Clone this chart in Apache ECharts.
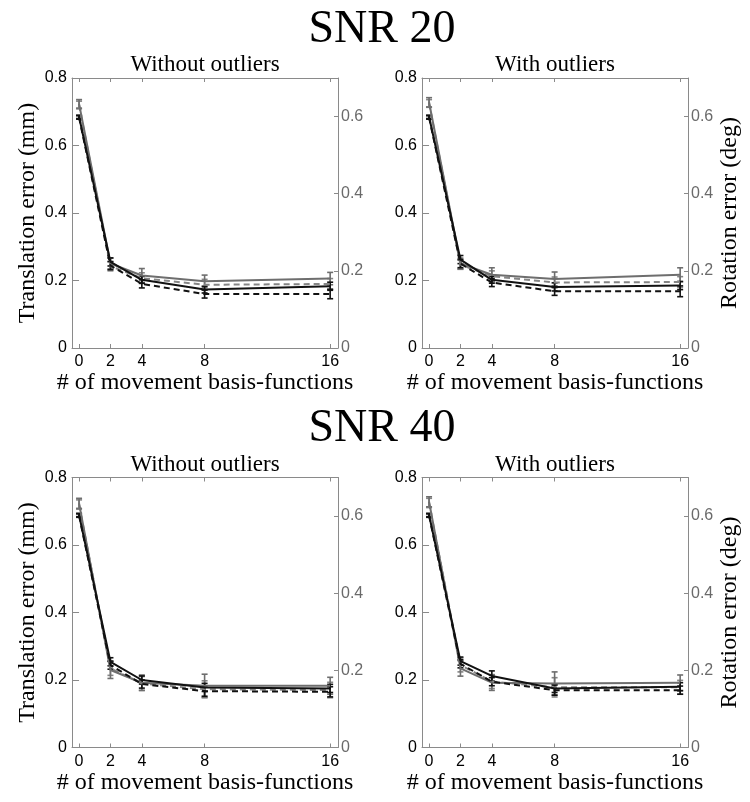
<!DOCTYPE html>
<html>
<head>
<meta charset="utf-8">
<script src="https://cdn.jsdelivr.net/npm/echarts@6/dist/echarts.min.js"></script>
<style>
html, body { margin: 0; padding: 0; background: #fff; }
#chart { width: 750px; height: 802px; }
</style>
</head>
<body>
<div id="chart"></div>
<script>
// x: number of movement basis-functions
const basisCounts = [0, 2, 4, 8, 16];
const snrTitles = ['SNR 20', 'SNR 40'];
const panelTitles = ['Without outliers', 'With outliers', 'Without outliers', 'With outliers'];
const leftTicks = [0, 0.2, 0.4, 0.6, 0.8];
const rightTicks = [0, 0.2, 0.4, 0.6];

// panel order: SNR20 without, SNR20 with, SNR40 without, SNR40 with
// translation error (mm) - black, left axis
const transSolid = [
  [0.685, 0.255, 0.202, 0.173, 0.183],
  [0.685, 0.262, 0.202, 0.181, 0.185],
  [0.689, 0.254, 0.200, 0.178, 0.175],
  [0.689, 0.256, 0.212, 0.175, 0.180]
];
const transSolidErr = [
  [0.005, 0.012, 0.010, 0.010, 0.012],
  [0.005, 0.012, 0.010, 0.012, 0.012],
  [0.005, 0.012, 0.012, 0.012, 0.012],
  [0.005, 0.012, 0.015, 0.012, 0.012]
];
const transDashed = [
  [0.683, 0.244, 0.190, 0.160, 0.160],
  [0.683, 0.250, 0.194, 0.168, 0.168],
  [0.687, 0.244, 0.188, 0.167, 0.165],
  [0.687, 0.248, 0.195, 0.170, 0.170]
];
const transDashedErr = [
  [0.005, 0.012, 0.012, 0.012, 0.014],
  [0.005, 0.012, 0.012, 0.012, 0.016],
  [0.005, 0.012, 0.012, 0.015, 0.015],
  [0.005, 0.012, 0.012, 0.015, 0.012]
];
// rotation error (deg) - gray, right axis
const rotSolid = [
  [0.633, 0.219, 0.188, 0.173, 0.180],
  [0.637, 0.219, 0.190, 0.179, 0.190],
  [0.633, 0.201, 0.168, 0.160, 0.160],
  [0.637, 0.205, 0.168, 0.166, 0.168]
];
const rotSolidErr = [
  [0.011, 0.014, 0.018, 0.016, 0.016],
  [0.012, 0.014, 0.018, 0.018, 0.018],
  [0.013, 0.022, 0.020, 0.030, 0.022],
  [0.013, 0.020, 0.020, 0.030, 0.020]
];
const rotDashed = [
  [0.630, 0.212, 0.181, 0.164, 0.166],
  [0.634, 0.216, 0.186, 0.170, 0.171],
  [0.630, 0.205, 0.166, 0.151, 0.149],
  [0.634, 0.214, 0.171, 0.156, 0.156]
];
const rotDashedErr = [
  [0.010, 0.012, 0.014, 0.014, 0.014],
  [0.010, 0.012, 0.014, 0.014, 0.014],
  [0.012, 0.018, 0.018, 0.022, 0.020],
  [0.012, 0.018, 0.018, 0.025, 0.018]
];

const serif = 'Liberation Serif';
const sans = 'Liberation Sans';
const axisGray = '#8a8a8a';
const rightLabelGray = '#6a6a6a';
const black = '#111';
const graySolidColor = '#6e6e6e';
const grayDashedColor = '#858585';

const gridLefts = [72, 422];
const gridTops = [78, 477.5];
const gridW = 266;
const gridH = 270;

const chart = echarts.init(document.getElementById('chart'));

const grids = [];
const xAxes = [];
const yAxes = [];
const series = [];
const graphics = [];

// error bar 绘制
function errorBarRender(color) {
  return function (params, api) {
    const x = api.value(0);
    const y = api.value(1);
    const e = api.value(2);
    const top = api.coord([x, y + e]);
    const bot = api.coord([x, y - e]);
    const cap = 3;
    const style = { stroke: color, lineWidth: 1.6 };
    return {
      type: 'group',
      children: [
        { type: 'line', shape: { x1: top[0], y1: top[1], x2: bot[0], y2: bot[1] }, style: style },
        { type: 'line', shape: { x1: top[0] - cap, y1: top[1], x2: top[0] + cap, y2: top[1] }, style: style },
        { type: 'line', shape: { x1: bot[0] - cap, y1: bot[1], x2: bot[0] + cap, y2: bot[1] }, style: style }
      ]
    };
  };
}

function addLine(p, yIdx, vals, errs, color, dashed) {
  series.push({
    type: 'line',
    xAxisIndex: 2 * p,
    yAxisIndex: yIdx,
    symbol: 'none',
    silent: true,
    lineStyle: { color: color, width: 2, type: dashed ? [6, 4] : 'solid' },
    data: basisCounts.map((x, i) => [x, vals[i]])
  });
  series.push({
    type: 'custom',
    xAxisIndex: 2 * p,
    yAxisIndex: yIdx,
    silent: true,
    renderItem: errorBarRender(color),
    encode: { x: 0, y: 1 },
    data: basisCounts.map((x, i) => [x, vals[i], errs[i]]),
    z: 3
  });
}

for (let p = 0; p < 4; p++) {
  const col = p % 2;
  const row = Math.floor(p / 2);
  const left = gridLefts[col];
  const top = gridTops[row];
  grids.push({ left: left, top: top, width: gridW, height: gridH, containLabel: false });

  const lineStyle = { color: axisGray, width: 1 };
  xAxes.push({
    type: 'value', gridIndex: p, position: 'bottom', min: -0.45, max: 16.5,
    axisLine: { show: true, onZero: false, lineStyle: lineStyle },
    axisTick: { show: true, inside: true, length: 4, lineStyle: lineStyle, customValues: basisCounts },
    axisLabel: { color: '#000', fontFamily: sans, fontSize: 16, margin: 6, customValues: basisCounts },
    splitLine: { show: false },
    name: '# of movement basis-functions', nameLocation: 'middle', nameGap: 22,
    nameTextStyle: { fontFamily: serif, fontSize: 24, color: '#000' }
  });
  xAxes.push({
    type: 'value', gridIndex: p, position: 'top', min: -0.45, max: 16.5,
    axisLine: { show: true, onZero: false, lineStyle: lineStyle },
    axisTick: { show: true, inside: true, length: 4, lineStyle: lineStyle, customValues: basisCounts },
    axisLabel: { show: false },
    splitLine: { show: false }
  });

  yAxes.push({
    type: 'value', gridIndex: p, position: 'left', min: 0, max: 0.8, interval: 0.2,
    axisLine: { show: true, onZero: false, lineStyle: lineStyle },
    axisTick: { show: true, inside: true, length: 4, lineStyle: lineStyle, customValues: leftTicks },
    axisLabel: { color: '#000', fontFamily: sans, fontSize: 16, margin: 5, customValues: leftTicks },
    splitLine: { show: false },
    name: col === 0 ? 'Translation error (mm)' : '', nameLocation: 'middle', nameGap: 32,
    nameTextStyle: { fontFamily: serif, fontSize: 24, color: '#000' }
  });
  yAxes.push({
    type: 'value', gridIndex: p, position: 'right', min: 0, max: 0.7,
    axisLine: { show: true, onZero: false, lineStyle: lineStyle },
    axisTick: { show: true, inside: true, length: 4, lineStyle: lineStyle, customValues: rightTicks },
    axisLabel: { color: rightLabelGray, fontFamily: sans, fontSize: 16, margin: 3, customValues: rightTicks },
    splitLine: { show: false },
    name: col === 1 ? 'Rotation error (deg)' : '', nameLocation: 'middle', nameGap: 30,
    nameTextStyle: { fontFamily: serif, fontSize: 24, color: '#000' }
  });
  // 右侧镜像的左轴刻度
  yAxes.push({
    type: 'value', gridIndex: p, position: 'right', min: 0, max: 0.8, interval: 0.2,
    axisLine: { show: false },
    axisTick: { show: true, inside: true, length: 4, lineStyle: lineStyle, customValues: leftTicks },
    axisLabel: { show: false },
    splitLine: { show: false }
  });

  addLine(p, 3 * p + 1, rotDashed[p], rotDashedErr[p], grayDashedColor, true);
  addLine(p, 3 * p + 1, rotSolid[p], rotSolidErr[p], graySolidColor, false);
  addLine(p, 3 * p, transDashed[p], transDashedErr[p], black, true);
  addLine(p, 3 * p, transSolid[p], transSolidErr[p], black, false);

  graphics.push({
    type: 'text', x: left + gridW / 2, y: top - 13,
    style: { text: panelTitles[p], fontFamily: serif, fontSize: 23, fill: '#000', align: 'center', verticalAlign: 'middle' }
  });
}

snrTitles.forEach((t, i) => {
  graphics.push({
    type: 'text', x: 382, y: i === 0 ? 30 : 429,
    style: { text: t, fontFamily: serif, fontSize: 46, fill: '#000', align: 'center', verticalAlign: 'middle' }
  });
});

const option = {
  animation: false,
  backgroundColor: '#fff',
  grid: grids,
  xAxis: xAxes,
  yAxis: yAxes,
  series: series,
  graphic: graphics
};

chart.setOption(option);
</script>
</body>
</html>
